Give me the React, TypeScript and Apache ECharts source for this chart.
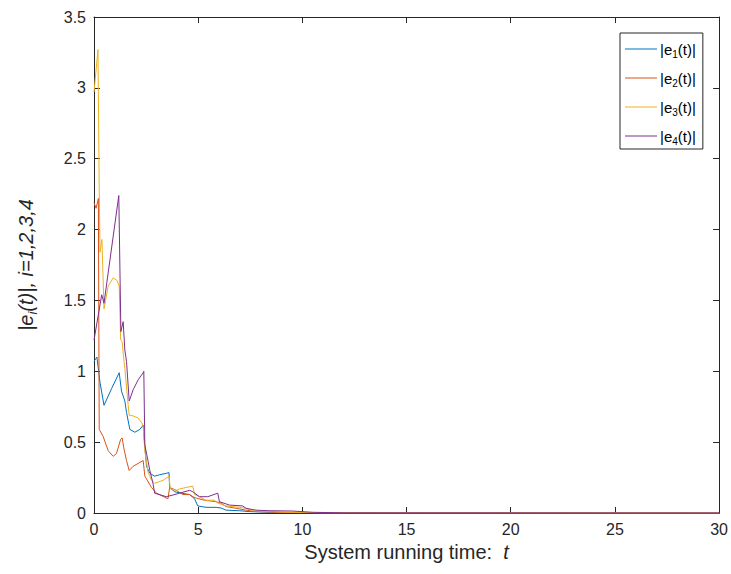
import React, { useEffect, useRef } from "react";
import * as echarts from "echarts";

const seriesNames = ["|e1(t)|", "|e2(t)|", "|e3(t)|", "|e4(t)|"];
const seriesColors = ["#0072BD", "#D95319", "#EDB120", "#7E2F8E"];

const e1Data: [number, number][] = [
  [0, 1.07], [0.14, 1.1], [0.29, 0.92], [0.48, 0.76], [0.85, 0.88], [1.21, 0.99],
  [1.32, 0.86], [1.48, 0.79], [1.56, 0.71], [1.72, 0.59], [1.96, 0.57], [2.2, 0.59],
  [2.36, 0.62], [2.44, 0.47], [2.52, 0.33], [2.68, 0.28], [2.91, 0.26], [3.15, 0.27],
  [3.47, 0.28], [3.6, 0.285], [3.63, 0.18], [3.87, 0.15], [4.19, 0.14], [4.59, 0.13],
  [4.83, 0.1], [4.98, 0.05], [5.38, 0.04], [5.86, 0.04], [6.1, 0.035], [6.34, 0.02],
  [6.98, 0.016], [7.45, 0.01], [8.5, 0.005], [10, 0.002], [12, 0.0005], [30, 0],
];

const e2Data: [number, number][] = [
  [0, 2.19], [0.1, 2.15], [0.21, 2.22], [0.25, 0.59], [0.44, 0.54], [0.68, 0.44],
  [0.92, 0.4], [1.08, 0.42], [1.28, 0.52], [1.35, 0.53], [1.43, 0.46], [1.56, 0.37],
  [1.69, 0.3], [1.88, 0.33], [2.36, 0.37], [2.44, 0.26], [2.76, 0.18], [3.0, 0.14],
  [3.55, 0.1], [3.63, 0.18], [3.95, 0.16], [4.27, 0.13], [4.59, 0.13], [4.74, 0.115],
  [4.91, 0.105], [5.3, 0.09], [5.86, 0.08], [6.1, 0.07], [6.34, 0.045], [6.82, 0.033],
  [7.3, 0.02], [7.77, 0.01], [9, 0.004], [11, 0.001], [30, 0],
];

const e3Data: [number, number][] = [
  [0, 2.97], [0.19, 3.27], [0.25, 2.3], [0.29, 1.84], [0.38, 1.93], [0.48, 1.44],
  [0.68, 1.6], [0.92, 1.66], [1.11, 1.64], [1.21, 1.6], [1.28, 1.22], [1.35, 1.21],
  [1.4, 1.13], [1.48, 1.02], [1.64, 0.76], [1.69, 0.69], [1.88, 0.685], [2.12, 0.67],
  [2.28, 0.64], [2.36, 0.61], [2.44, 0.44], [2.59, 0.29], [2.76, 0.23], [2.91, 0.21],
  [3.31, 0.23], [3.6, 0.26], [3.66, 0.17], [3.95, 0.16], [4.11, 0.17], [4.74, 0.19],
  [4.83, 0.13], [5.06, 0.115], [5.38, 0.09], [5.78, 0.09], [5.94, 0.07], [6.34, 0.05],
  [6.98, 0.04], [7.3, 0.033], [7.61, 0.016], [9, 0.006], [11, 0.001], [30, 0],
];

const e4Data: [number, number][] = [
  [0, 1.22], [0.37, 1.54], [0.48, 1.48], [1.19, 2.24], [1.29, 1.28], [1.4, 1.35],
  [1.48, 1.15], [1.56, 1.07], [1.69, 0.79], [1.88, 0.87], [2.12, 0.94], [2.36, 0.99],
  [2.39, 1.0], [2.44, 0.48], [2.59, 0.37], [2.68, 0.3], [2.83, 0.21], [2.91, 0.14],
  [3.47, 0.115], [3.79, 0.127], [4.11, 0.14], [4.59, 0.16], [4.74, 0.15], [5.06, 0.115],
  [5.46, 0.115], [5.94, 0.14], [6.02, 0.08], [6.5, 0.056], [7.13, 0.05], [7.3, 0.033],
  [7.77, 0.02], [8.41, 0.016], [9.5, 0.014], [10.5, 0.005], [12, 0.001], [30, 0],
];

const allData = [e1Data, e2Data, e3Data, e4Data];
const xTicks = { min: 0, max: 30, interval: 5 };
const yTicks = { min: 0, max: 3.5, interval: 0.5 };

const FONT = "Liberation Sans, Arial, Helvetica, sans-serif";
const AX = "#262626";

export default function App() {
  const ref = useRef<HTMLDivElement>(null);
  useEffect(() => {
    if (!ref.current) return;
    const chart = echarts.init(ref.current, undefined, { renderer: "svg" });
    const baseAxis = {
      axisLine: { show: true, onZero: false, lineStyle: { color: AX, width: 1 } },
      axisTick: { show: true, inside: true, length: 6, lineStyle: { color: AX, width: 1 } },
      splitLine: { show: false },
    };
    chart.setOption({
      animation: false,
      backgroundColor: "#ffffff",
      textStyle: { fontFamily: FONT },
      grid: { left: 94, right: 9, top: 17, bottom: 61, containLabel: false },
      legend: {
        data: seriesNames,
        orient: "vertical",
        left: 620,
        top: 33,
        padding: [6, 7, 3, 5],
        icon: "rect",
        itemWidth: 32,
        itemHeight: 1,
        itemGap: 9,
        borderColor: AX,
        borderWidth: 1,
        backgroundColor: "#ffffff",
        formatter: (name: string) => {
          const d = name.replace(/[^0-9]/g, "");
          return "{m||e}{s|" + d + "}{m|(t)|}";
        },
        textStyle: {
          color: "#000",
          fontFamily: FONT,
          padding: [0, 0, 0, -2],
          rich: {
            m: { fontSize: 15, fontFamily: FONT, color: "#000", lineHeight: 18 },
            s: { fontSize: 10, fontFamily: FONT, color: "#000", padding: [10, 0, 0, 0], lineHeight: 18 },
          },
        },
      },
      xAxis: [
        {
          type: "value",
          position: "bottom",
          ...xTicks,
          ...baseAxis,
          axisLabel: { color: AX, fontSize: 16, fontFamily: FONT, margin: 8 },
          name: "System running time:  {it|t}",
          nameLocation: "middle",
          nameGap: 27,
          nameTextStyle: {
            color: AX,
            fontSize: 20,
            fontFamily: FONT,
            rich: { it: { fontStyle: "italic", fontSize: 20, fontFamily: FONT, color: AX } },
          },
        },
        {
          type: "value",
          position: "top",
          ...xTicks,
          ...baseAxis,
          axisLabel: { show: false },
        },
      ],
      yAxis: [
        {
          type: "value",
          position: "left",
          ...yTicks,
          ...baseAxis,
          axisLabel: { color: AX, fontSize: 16, fontFamily: FONT, margin: 8 },
          name: "{it||e}{sub|i}{it|(t)|, i=1,2,3,4}",
          nameLocation: "middle",
          nameRotate: 90,
          nameGap: 56,
          nameTextStyle: {
            color: AX,
            fontSize: 20,
            fontFamily: FONT,
            rich: {
              it: { fontStyle: "italic", fontSize: 20, fontFamily: FONT, color: AX, lineHeight: 24 },
              sub: { fontStyle: "italic", fontSize: 13, fontFamily: FONT, color: AX, padding: [12, 0, 0, 0], lineHeight: 24 },
            },
          },
        },
        {
          type: "value",
          position: "right",
          ...yTicks,
          ...baseAxis,
          axisLabel: { show: false },
        },
      ],
      series: allData.map((d, i) => ({
        name: seriesNames[i],
        type: "line",
        data: d,
        xAxisIndex: 0,
        yAxisIndex: 0,
        symbol: "none",
        showSymbol: false,
        lineStyle: { color: seriesColors[i], width: 1 },
        itemStyle: { color: seriesColors[i] },
        color: seriesColors[i],
      })),
    });
    return () => chart.dispose();
  }, []);
  return (
    <div
      ref={ref}
      style={{ position: "absolute", left: 0, top: 0, width: 731, height: 574, background: "#fff" }}
    />
  );
}
